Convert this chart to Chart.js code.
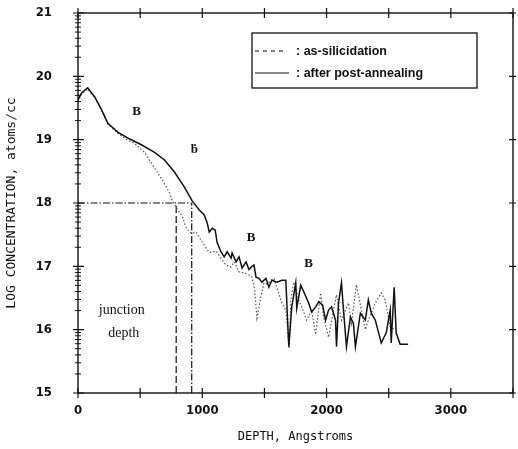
<!DOCTYPE html>
<html>
<head>
<meta charset="utf-8">
<script src="https://cdn.jsdelivr.net/npm/chart.js@4.4.0/dist/chart.umd.min.js"></script>
<style>
  html, body { margin: 0; padding: 0; background: #fff; }
  #wrap { width: 518px; height: 449px; }
</style>
</head>
<body>
<div id="wrap"><canvas id="profile"></canvas></div>
<script>
// Boron depth profile
const afterDepth = [0, 30, 78, 136, 190, 240, 320, 416, 510, 616, 696, 776, 856, 920, 976, 1016, 1040, 1056, 1080, 1104,
  1120, 1150, 1176, 1200, 1232, 1240, 1272, 1296, 1320, 1352, 1376, 1400, 1416, 1432, 1456, 1480, 1512, 1536, 1560, 1600,
  1640, 1672, 1696, 1720, 1752, 1760, 1792, 1816, 1856, 1880, 1912, 1936, 1968, 1992, 2016, 2040, 2072, 2080, 2096, 2120,
  2136, 2160, 2192, 2216, 2232, 2272, 2312, 2336, 2360, 2392, 2440, 2480, 2512, 2520, 2544, 2560, 2592, 2656];
const afterLog = [19.63, 19.74, 19.82, 19.67, 19.47, 19.26, 19.12, 19.01, 18.92, 18.80, 18.68, 18.49, 18.25, 18.03, 17.89, 17.81, 17.68, 17.54, 17.60, 17.57,
  17.37, 17.23, 17.15, 17.23, 17.13, 17.21, 17.07, 17.15, 16.97, 17.07, 16.95, 17.00, 17.02, 16.83, 16.81, 16.75, 16.81, 16.67, 16.78, 16.75,
  16.78, 16.78, 15.73, 16.36, 16.74, 16.34, 16.70, 16.60, 16.42, 16.28, 16.36, 16.44, 16.39, 16.15, 16.31, 16.36, 16.15, 15.73, 16.42, 16.74,
  16.31, 15.73, 16.20, 16.10, 15.73, 16.26, 16.15, 16.47, 16.26, 16.15, 15.79, 15.95, 16.31, 15.79, 16.67, 15.95, 15.77, 15.77];

const asDepth = [0, 30, 78, 136, 190, 240, 320, 400, 456, 536, 616, 680, 736, 760, 800, 840, 872, 912, 952, 1000,
  1056, 1112, 1160, 1190, 1232, 1256, 1296, 1336, 1376, 1400, 1420, 1440, 1472, 1496, 1520, 1576, 1640, 1672, 1700, 1712,
  1736, 1776, 1800, 1840, 1880, 1912, 1952, 1976, 2016, 2056, 2080, 2120, 2176, 2200, 2240, 2280, 2312, 2336, 2392, 2440,
  2472, 2512, 2552];
const asLog = [19.60, 19.72, 19.80, 19.66, 19.46, 19.25, 19.10, 18.99, 18.94, 18.80, 18.55, 18.36, 18.16, 18.03, 17.90, 17.78, 17.60, 17.52, 17.54, 17.38,
  17.22, 17.24, 17.10, 17.02, 16.99, 17.07, 16.91, 16.90, 16.86, 16.83, 16.65, 16.18, 16.52, 16.74, 16.72, 16.81, 16.42, 16.31, 15.70, 16.47,
  16.75, 16.47, 16.36, 16.15, 16.31, 15.92, 16.58, 16.20, 15.88, 16.31, 16.55, 16.15, 16.42, 16.10, 16.71, 16.31, 16.00, 16.15, 16.42, 16.58,
  16.47, 16.04, 16.00];

// junction depth markers
const junctionLevel = 18;
const junctionDepths = [790, 915];

// axis ticks
const depthTicks = [0, 500, 1000, 1500, 2000, 2500, 3000, 3500];
const logTicks = [15, 16, 17, 18, 19, 20, 21];

// text annotations (depth, log value, text)
const noteDepth = [472, 936, 1392, 1856, 352, 368];
const noteLog = [19.44, 18.84, 17.45, 17.05, 16.3, 15.95];
const noteText = ['B', 'ḃ', 'B', 'B', 'junction', 'depth'];

const legendLabels = [': as-silicidation', ': after post-annealing'];

function toPoints(xs, ys) {
  return xs.map((x, i) => ({ x: x, y: ys[i] }));
}

// frame, cross ticks, minor log ticks, notes and the boxed legend
const decorPlugin = {
  id: 'decor',
  afterDraw(chart) {
    const ctx = chart.ctx;
    const a = chart.chartArea;
    const xs = chart.scales.x;
    const ys = chart.scales.y;
    ctx.save();
    ctx.strokeStyle = '#111';
    ctx.lineWidth = 1.4;
    ctx.strokeRect(a.left, a.top, a.right - a.left, a.bottom - a.top);

    ctx.lineWidth = 1.2;
    ctx.beginPath();
    depthTicks.forEach(v => {
      const px = xs.getPixelForValue(v);
      ctx.moveTo(px, a.bottom - 5); ctx.lineTo(px, a.bottom + 5);
      ctx.moveTo(px, a.top - 5); ctx.lineTo(px, a.top + 5);
    });
    logTicks.forEach(v => {
      const py = ys.getPixelForValue(v);
      ctx.moveTo(a.left - 5, py); ctx.lineTo(a.left + 6, py);
      ctx.moveTo(a.right - 4, py); ctx.lineTo(a.right + 3, py);
    });
    ctx.stroke();

    ctx.lineWidth = 1;
    ctx.beginPath();
    for (let d = 15; d < 21; d++) {
      for (let k = 2; k <= 9; k++) {
        const py = ys.getPixelForValue(d + Math.log10(k));
        ctx.moveTo(a.left - 3, py); ctx.lineTo(a.left + 3, py);
      }
    }
    ctx.stroke();

    // notes
    ctx.fillStyle = '#111';
    ctx.textAlign = 'center';
    ctx.textBaseline = 'middle';
    noteText.forEach((t, i) => {
      const big = t.length > 1;
      ctx.font = big ? '14px "Liberation Serif"' : 'bold 13px "Liberation Serif"';
      ctx.fillText(t, xs.getPixelForValue(noteDepth[i]), ys.getPixelForValue(noteLog[i]));
    });

    // legend box
    const lx = 252, ly = 33, lw = 225, lh = 55;
    ctx.lineWidth = 1.3;
    ctx.strokeRect(lx, ly, lw, lh);
    ctx.font = 'bold 12.5px "Liberation Sans"';
    ctx.textAlign = 'left';
    const rows = [ly + 18, ly + 40];
    ctx.strokeStyle = '#333';
    ctx.lineWidth = 1.2;
    ctx.setLineDash([4, 4]);
    ctx.beginPath(); ctx.moveTo(lx + 3, rows[0]); ctx.lineTo(lx + 33, rows[0]); ctx.stroke();
    ctx.setLineDash([]);
    ctx.strokeStyle = '#111';
    ctx.beginPath(); ctx.moveTo(lx + 3, rows[1]); ctx.lineTo(lx + 37, rows[1]); ctx.stroke();
    legendLabels.forEach((t, i) => ctx.fillText(t, lx + 44, rows[i] + 1));
    ctx.restore();
  }
};

const ctx = document.getElementById('profile').getContext('2d');
new Chart(ctx, {
  type: 'line',
  data: {
    datasets: [
      {
        label: 'after post-annealing',
        data: toPoints(afterDepth, afterLog),
        borderColor: '#111',
        borderWidth: 1.5,
        pointRadius: 0,
        tension: 0
      },
      {
        label: 'as-silicidation',
        data: toPoints(asDepth, asLog),
        borderColor: '#555',
        borderWidth: 1.2,
        borderDash: [1.5, 2],
        pointRadius: 0,
        tension: 0
      },
      {
        label: 'junction level',
        data: [{ x: 0, y: junctionLevel }, { x: junctionDepths[1], y: junctionLevel }],
        borderColor: '#111',
        borderWidth: 1.2,
        borderDash: [7, 2, 1.5, 2],
        pointRadius: 0
      },
      {
        label: 'junction 1',
        data: [{ x: junctionDepths[0], y: 15 }, { x: junctionDepths[0], y: junctionLevel }],
        borderColor: '#111',
        borderWidth: 1.2,
        borderDash: [7, 3],
        pointRadius: 0
      },
      {
        label: 'junction 2',
        data: [{ x: junctionDepths[1], y: 15 }, { x: junctionDepths[1], y: junctionLevel }],
        borderColor: '#111',
        borderWidth: 1.2,
        borderDash: [7, 2, 1.5, 2],
        pointRadius: 0
      }
    ]
  },
  options: {
    responsive: true,
    maintainAspectRatio: false,
    animation: false,
    layout: { padding: { top: 13, right: 5, left: 0, bottom: 0 } },
    plugins: {
      legend: { display: false },
      tooltip: { enabled: false }
    },
    scales: {
      x: {
        type: 'linear',
        min: 0,
        max: 3500,
        afterFit(scale) {
          scale.height = 56;
          scale.paddingLeft = 0;
          scale.paddingRight = 0;
        },
        afterBuildTicks(scale) { scale.ticks = depthTicks.map(v => ({ value: v })); },
        grid: { display: false, drawTicks: false },
        border: { display: false },
        ticks: {
          padding: 10,
          color: '#111',
          maxRotation: 0,
          autoSkip: false,
          font: { family: '"DejaVu Sans Condensed"', size: 13, weight: 'bold' },
          callback: v => (v % 1000 === 0 ? String(v) : '')
        },
        title: {
          display: true,
          text: 'DEPTH, Angstroms',
          color: '#111',
          font: { family: '"DejaVu Sans Mono"', size: 12 },
          padding: { top: 0, bottom: 5 }
        }
      },
      y: {
        type: 'linear',
        min: 15,
        max: 21,
        afterFit(scale) {
          scale.width = 78;
          scale.paddingTop = 0;
          scale.paddingBottom = 0;
        },
        afterBuildTicks(scale) { scale.ticks = logTicks.map(v => ({ value: v })); },
        grid: { display: false, drawTicks: false },
        border: { display: false },
        ticks: {
          padding: 26,
          color: '#111',
          autoSkip: false,
          font: { family: '"DejaVu Sans Condensed"', size: 13, weight: 'bold' }
        },
        title: {
          display: true,
          text: 'LOG CONCENTRATION, atoms/cc',
          color: '#111',
          font: { family: '"DejaVu Sans Mono"', size: 13 },
          padding: { top: 4, bottom: 0 }
        }
      }
    }
  },
  plugins: [decorPlugin]
});
</script>
</body>
</html>
